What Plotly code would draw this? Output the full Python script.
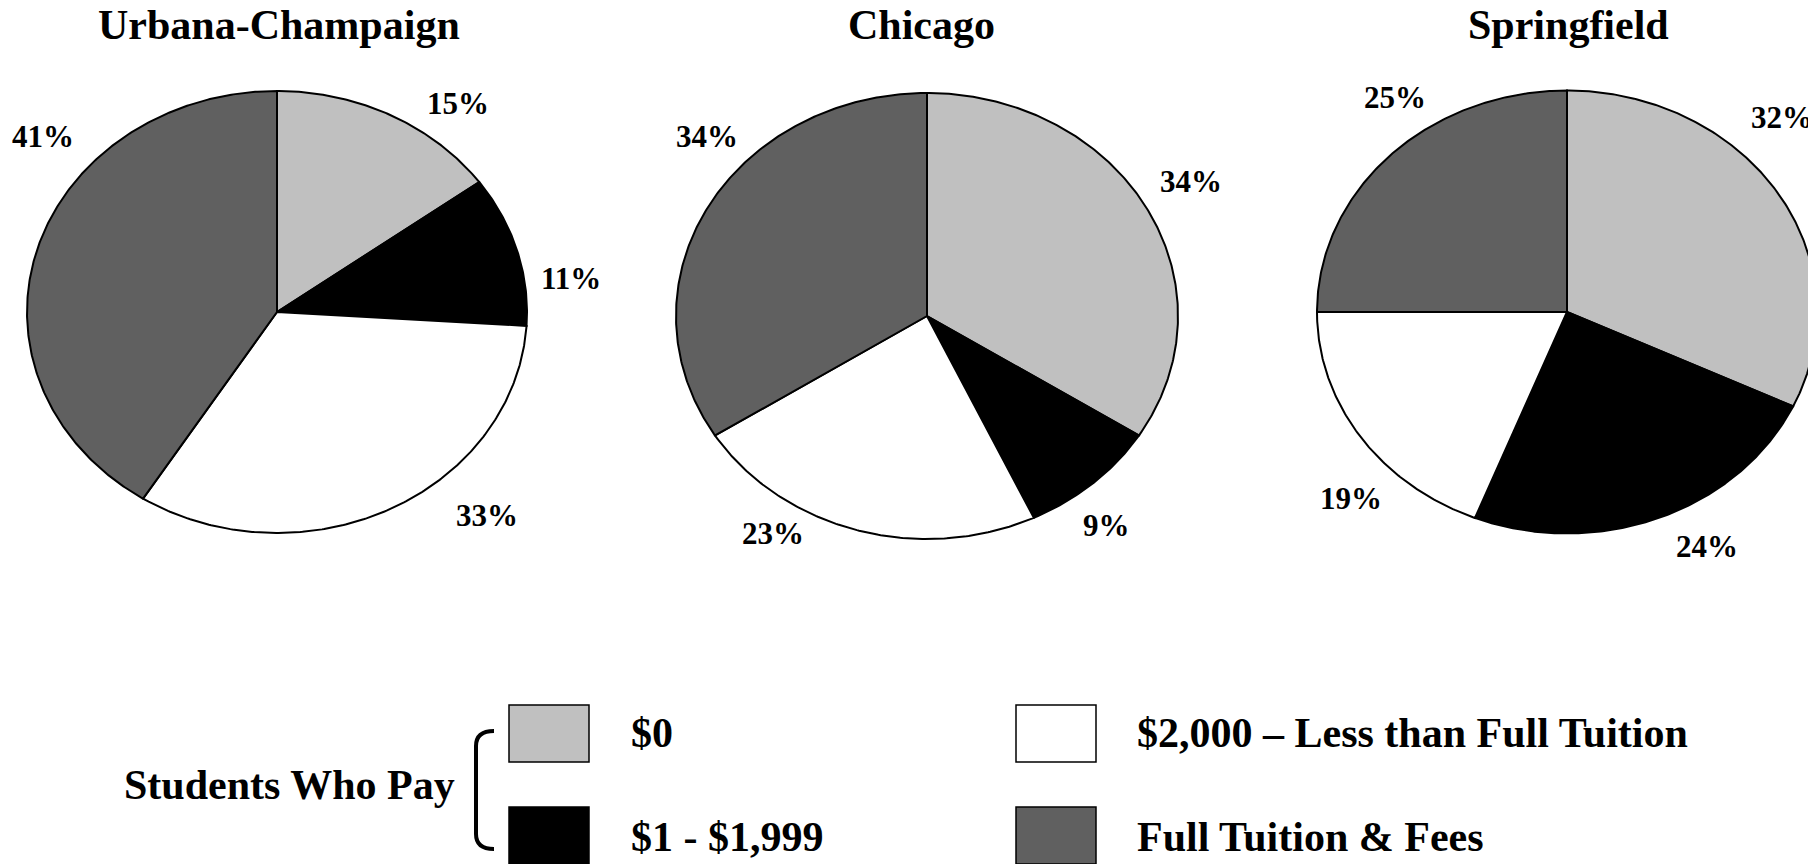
import numpy as np
import plotly.graph_objects as go

# ---- data ----
campuses = ["Urbana-Champaign", "Chicago", "Springfield"]
categories = ["$0", "$1 - $1,999", "$2,000 – Less than Full Tuition", "Full Tuition & Fees"]
urbana_pct = [15, 11, 33, 41]
chicago_pct = [34, 9, 23, 34]
springfield_pct = [32, 24, 19, 25]
campus_values = [urbana_pct, chicago_pct, springfield_pct]

# ---- styling / layout ----
W, H = 1808, 864
colors = ["#C0C0C0", "#000000", "#FFFFFF", "#606060"]
FONT = "Liberation Serif, Times New Roman, serif"

# pie centres and radii (pixel space; pies are drawn as ellipses)
centers = [(277, 312), (927, 316), (1567, 312)]
radii = [(250, 221), (251, 223), (250, 221.5)]
title_x = [279, 921, 1568]
title_y = 25

# percentage label anchors for each slice, per campus
label_xy = [
    [(458, 103), (571, 278), (487, 515), (43, 136)],
    [(1191, 181), (1106, 525), (773, 533), (707, 136)],
    [(1782, 117), (1707, 546), (1351, 498), (1395, 97)],
]

fig = go.Figure()


def slice_path(cx, cy, rx, ry, f0, f1):
    """Closed outline of one wedge, clockwise from 12 o'clock."""
    n = max(3, int(abs(f1 - f0) * 720))
    t = np.linspace(f0, f1, n) * 2 * np.pi
    xs = np.concatenate([[cx], cx + rx * np.sin(t), [cx]])
    ys = np.concatenate([[cy], cy - ry * np.cos(t), [cy]])
    return xs, ys


annotations = []
for ci, (name, vals) in enumerate(zip(campuses, campus_values)):
    cx, cy = centers[ci]
    rx, ry = radii[ci]
    total = float(sum(vals))
    cum = 0.0
    for k, v in enumerate(vals):
        f0 = cum / total
        cum += v
        f1 = cum / total
        xs, ys = slice_path(cx, cy, rx, ry, f0, f1)
        fig.add_trace(go.Scatter(
            x=xs, y=ys, mode="lines", fill="toself",
            fillcolor=colors[k],
            line=dict(color="black", width=2),
            hoverinfo="skip", showlegend=False,
        ))
        lx, ly = label_xy[ci][k]
        annotations.append(dict(
            x=lx, y=ly, xref="x", yref="y", text=f"{v}%", showarrow=False,
            xanchor="center", yanchor="middle",
            font=dict(family=FONT, size=31, color="black", weight="bold"),
        ))
    annotations.append(dict(
        x=title_x[ci], y=title_y, xref="x", yref="y", text=name, showarrow=False,
        xanchor="center", yanchor="middle",
        font=dict(family=FONT, size=42, color="black", weight="bold"),
    ))

# ---- legend (swatches + labels) ----
swatch_x = [509, 509, 1016, 1016]
swatch_y = [705, 807, 705, 807]
swatch_w, swatch_h = 80, 57
text_x = [629, 629, 1135, 1135]
text_y = [733, 837, 733, 837]
shapes = []
for k, cat in enumerate(categories):
    shapes.append(dict(
        type="rect", xref="x", yref="y",
        x0=swatch_x[k], x1=swatch_x[k] + swatch_w,
        y0=swatch_y[k], y1=swatch_y[k] + swatch_h,
        fillcolor=colors[k], line=dict(color="black", width=1.5),
    ))
    annotations.append(dict(
        x=text_x[k], y=text_y[k], xref="x", yref="y", text=cat, showarrow=False,
        xanchor="left", yanchor="middle",
        font=dict(family=FONT, size=42, color="black", weight="bold"),
    ))

annotations.append(dict(
    x=457, y=785, xref="x", yref="y", text="Students Who Pay", showarrow=False,
    xanchor="right", yanchor="middle",
    font=dict(family=FONT, size=42, color="black", weight="bold"),
))
# bracket grouping the two "Students Who Pay" categories
shapes.append(dict(
    type="path", xref="x", yref="y",
    path="M 494 731 Q 476 731 476 746 L 476 834 Q 476 849 494 849",
    line=dict(color="black", width=4),
))

fig.update_layout(
    width=W, height=H,
    margin=dict(l=0, r=0, t=0, b=0),
    paper_bgcolor="white", plot_bgcolor="white",
    xaxis=dict(range=[0, W], visible=False, fixedrange=True),
    yaxis=dict(range=[H, 0], visible=False, fixedrange=True),
    annotations=annotations,
    shapes=shapes,
    showlegend=False,
)

fig.write_html("out.html")
